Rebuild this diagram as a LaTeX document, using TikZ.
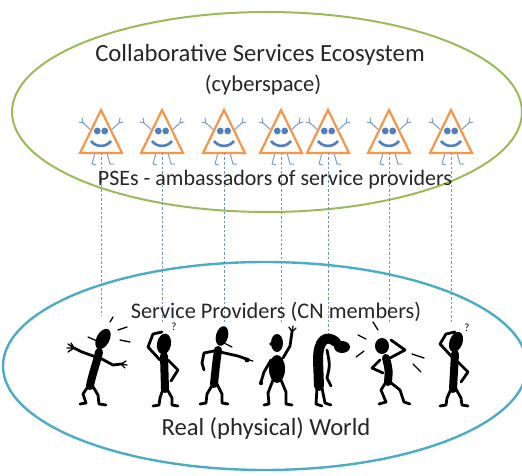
\documentclass[tikz,border=0pt]{standalone}
\usepackage{fontspec}
\setmainfont{Carlito}
\definecolor{ecogreen}{HTML}{9BBB59}
\definecolor{worldblue}{HTML}{4BACC6}
\definecolor{pseorange}{HTML}{F79646}
\definecolor{pseblue}{HTML}{4F7FBE}
\definecolor{limbblue}{HTML}{7E9CC8}
\definecolor{linkblue}{HTML}{6A93CC}
\definecolor{inktext}{HTML}{262626}
\tikzset{
  label/.style={text=inktext, inner sep=0pt, anchor=base},
  link/.style={linkblue, line width=0.7pt, dash pattern=on 2.5pt off 2pt},
  ink/.style={line width=2.8pt, line cap=round, line join=round},
  fine/.style={line width=1.3pt, line cap=round, line join=round},
  torso/.style={line width=8pt, line cap=round, line join=round},
  qmark/.style={inner sep=0pt, font=\fontsize{11}{12}\selectfont},
  pse/.pic={
    % legs
    \draw[limbblue, line width=1pt, line join=round] (-6,43) -- (-9,54) -- (-5,55) (6,43) -- (9,54) -- (13,54);
    % arms with forked hands
    \draw[limbblue, line width=1pt, line cap=round] (-9,21) -- (-18,13) (-18,13) -- (-22,12) (-18,13) -- (-19,8)
         (9,21) -- (18,13) (18,13) -- (22,12) (18,13) -- (19,8);
    % body
    \draw[pseorange, line width=2.2pt, fill=white, line join=miter] (0,0) -- (21,43) -- (-21,43) -- cycle;
    % face
    \fill[pseblue] (-3.7,21) circle (3.4) (3.7,21) circle (3.4);
    \draw[pseblue, line width=2.6pt] (-10,31) .. controls (-5,37.5) and (5,37.5) .. (10,31);
    \coordinate (-base) at (0,43);
  }
}
\begin{document}
\begin{tikzpicture}[x=1pt, y=-1pt]
\useasboundingbox (0,0) rectangle (522,476);

% the two worlds
\draw[ecogreen, line width=2pt] (267,112) ellipse [x radius=255, y radius=100];
\draw[worldblue, line width=2.4pt] (265,366) ellipse [x radius=262, y radius=104];

% connector end points above the heads
\coordinate (h1) at (101,316);
\coordinate (h2) at (162,323);
\coordinate (h3) at (224,324);
\coordinate (h4) at (281,322);
\coordinate (h5) at (328,338);
\coordinate (h6) at (389,322);
\coordinate (h7) at (451,322);

% PSE agents
\pic (p1) at (101,110) {pse};
\pic (p2) at (162,110) {pse};
\pic (p3) at (224,110) {pse};
\pic (p4) at (281,110) {pse};
\pic (p5) at (328,110) {pse};
\pic (p6) at (389,110) {pse};
\pic (p7) at (451,110) {pse};

% links between agents and providers
\foreach \i in {1,...,7} \draw[link] (p\i-base) -- (p\i-base |- h\i);

% provider 1: arms spread
\begin{scope}
\fill[rotate around={-28:(103,339)}] (103,339) ellipse [x radius=6.5, y radius=11];
\draw[fine] (88,337) -- (97,341);
\draw[torso] (99,352) .. controls (96,365) and (92,375) .. (90,386);
\draw[ink] (96,357) -- (82,352) -- (74,348);
\draw[fine] (74,348) -- (68,344) (74,348) -- (67,348) (74,348) -- (68,352) (74,348) -- (71,343);
\draw[ink] (100,358) -- (113,365) -- (121,364);
\draw[fine] (121,364) -- (126,361) (121,364) -- (127,365) (121,364) -- (125,368);
\draw[ink] (89,385) -- (83,394) -- (86,403) -- (80,404);
\draw[ink] (92,385) -- (98,395) -- (99,404) -- (106,405);
\draw[fine] (110,322) -- (113,317) (118,330) -- (127,327) (120,340) -- (130,342);
\end{scope}

% provider 2: scratching head
\begin{scope}
\fill[rotate around={-10:(164,344)}] (164,344) ellipse [x radius=7, y radius=10.5];
\draw[ink] (160,360) -- (148,347) -- (153,334) -- (162,332);
\draw[torso] (164,356) -- (165,389);
\draw[ink] (168,360) -- (178,370) -- (171,381);
\draw[ink] (163,389) -- (160,398) -- (159,405) -- (153,406);
\draw[ink] (167,389) -- (172,398) -- (172,405) -- (178,406);
\node[qmark] (q2) at (174,327) {?};
\end{scope}

% provider 3: pointing
\begin{scope}
\fill[rotate around={-15:(222,336)}] (222,336) ellipse [x radius=6, y radius=10];
\draw[fine] (224,343) -- (232,347);
\draw[torso] (218,350) .. controls (216,365) .. (214,384);
\draw[ink] (214,351) -- (204,353) -- (202,363) -- (204,370);
\draw[ink] (220,352) -- (238,356) -- (249,360);
\draw[fine] (249,360) -- (253,361);
\fill (247,360) circle (2.4);
\draw[ink] (213,384) -- (207,394) -- (206,403) -- (200,404);
\draw[ink] (217,384) -- (222,394) -- (222,403) -- (228,404);
\end{scope}

% provider 4: hand raised
\begin{scope}
\fill (277,343) ellipse [x radius=6, y radius=9];
\fill (271,344) circle (1.8);
\fill (277,369) ellipse [x radius=8, y radius=14];
\draw[ink] (283,358) -- (290,346) -- (292,332);
\draw[fine] (292,332) -- (289,327) (292,332) -- (293,326) (292,332) -- (296,328);
\draw[ink] (271,360) -- (264,372) -- (261,382);
\fill (261,383) circle (2.2);
\draw[ink] (273,380) -- (268,393) -- (269,404) -- (264,405);
\draw[ink] (281,380) -- (286,392) -- (286,404) -- (292,405);
\end{scope}

% provider 5: bent over
\begin{scope}
\fill (342,347) ellipse [x radius=8, y radius=6];
\draw[torso, line width=10pt] (336,342) .. controls (326,334) and (318,340) .. (318,360) -- (319,386);
\draw[ink] (327,350) .. controls (330,365) .. (327,378) -- (331,386);
\draw[ink] (317,388) -- (316,404) -- (322,406);
\draw[ink] (322,388) -- (325,403) -- (331,405);
\end{scope}

% provider 6: hands on head, knees bent
\begin{scope}
\fill (382,346) ellipse [x radius=7, y radius=8];
\draw[ink] (390,358) -- (405,350) -- (391,340);
\draw[ink] (380,360) -- (372,368) -- (383,373);
\draw[torso] (386,358) .. controls (389,370) .. (388,382);
\draw[ink] (386,382) -- (381,390) -- (386,402) -- (379,404);
\draw[ink] (390,382) -- (400,390) -- (404,402) -- (410,404);
\draw[fine] (373,322) -- (378,330) (358,335) -- (366,339) (356,357) -- (364,351)
            (412,354) -- (424,358) (413,364) -- (421,372);
\end{scope}

% provider 7: scratching head
\begin{scope}
\fill[rotate around={-20:(456,342)}] (456,342) ellipse [x radius=6.5, y radius=10.5];
\draw[ink] (452,357) -- (440,344) -- (446,334) -- (455,332);
\draw[torso] (455,354) -- (453,389);
\draw[ink] (458,362) -- (468,372) -- (461,382);
\draw[ink] (451,389) -- (447,398) -- (446,405) -- (440,406);
\draw[ink] (456,389) -- (461,398) -- (462,405) -- (468,406);
\node[qmark] (q7) at (467,328) {?};
\end{scope}

% captions
\node[label, font=\fontsize{24.7}{28}\selectfont] (eco)   at (260,62)  {Collaborative Services Ecosystem};
\node[label, font=\fontsize{22.6}{26}\selectfont] (cyber) at (263,92)  {(cyberspace)};
\node[label, font=\fontsize{22}{26}\selectfont]   (pses)  at (275,185) {PSEs - ambassadors of service providers};
\node[label, font=\fontsize{22.3}{26}\selectfont] (prov)  at (276,318) {Service Providers (CN members)};
\node[label, font=\fontsize{24.6}{28}\selectfont] (real)  at (266,435) {Real (physical) World};
\end{tikzpicture}
\end{document}
